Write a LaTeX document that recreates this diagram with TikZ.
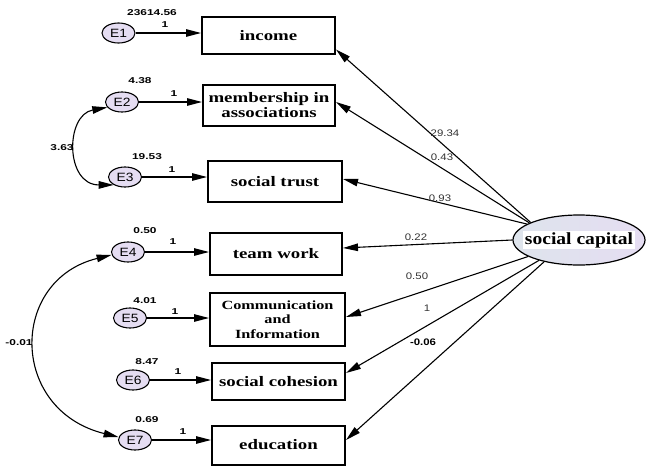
\documentclass[tikz,border=0pt]{standalone}
\usepackage{fontspec}
\setmainfont{Liberation Serif}
\newfontfamily\boxfont[FakeStretch=1.3]{Liberation Serif}
\newfontfamily\capfont[FakeStretch=1.15]{Liberation Serif}
\newfontfamily\efont[FakeStretch=1.15]{Liberation Sans}
\newfontfamily\numfont[FakeStretch=1.4]{Liberation Sans}
\newfontfamily\pathfont[FakeStretch=1.2]{Liberation Sans}
\usetikzlibrary{arrows.meta,shapes.geometric}
\definecolor{lav}{RGB}{229,221,242}
\definecolor{lavblue}{RGB}{222,228,236}
\definecolor{lbl}{RGB}{50,50,50}
\begin{document}
\begin{tikzpicture}[x=1pt,y=-1pt,
  obs/.style={draw, line width=2pt, minimum width=133pt, inner sep=0pt, align=center,
    font=\boxfont\bfseries\fontsize{14.5}{15}\selectfont},
  err/.style={ellipse, draw, line width=1.1pt, fill=lav, minimum width=33pt, minimum height=20pt,
    inner sep=0pt, font=\efont\fontsize{12}{12}\selectfont},
  latent/.style={ellipse, draw, line width=1.2pt, left color=lavblue, right color=lav,
    minimum width=132pt, minimum height=50pt, inner sep=0pt},
  sctext/.style={fill=white, inner sep=1.5pt, font=\capfont\bfseries\fontsize{17}{18}\selectfont},
  var/.style={font=\numfont\bfseries\fontsize{8.5}{9}\selectfont, inner sep=0pt},
  ld/.style={font=\pathfont\fontsize{9.5}{10}\selectfont, text=lbl, inner sep=0pt},
  ldb/.style={font=\pathfont\bfseries\fontsize{9.5}{10}\selectfont, text=black, inner sep=0pt},
  arr/.style={line width=1.1pt, -{Triangle[length=15pt,width=7.5pt]}},
  cov/.style={line width=1.1pt, {Triangle[length=15pt,width=7.5pt]}-{Triangle[length=15pt,width=7.5pt]}},
]
\useasboundingbox (0,0) rectangle (646,466);

% observed variables
\node[obs, minimum height=37pt] (inc) at (268.5,35.5) {income};
\node[obs, minimum height=41pt, minimum width=132pt] (mem) at (269,105.5) {membership in\\associations};
\node[obs, minimum height=41pt, minimum width=134pt] (tru) at (275,181.5) {social trust};
\node[obs, minimum height=42pt, minimum width=132pt] (tea) at (276,254) {team work};
\node[obs, minimum height=53pt, minimum width=135pt, font=\boxfont\bfseries\fontsize{12.5}{14.5}\selectfont] (com) at (277.5,319.5) {Communication\\and\\Information};
\node[obs, minimum height=37pt] (coh) at (278.5,381.5) {social cohesion};
\node[obs, minimum height=39pt] (edu) at (278.5,445) {education};

% latent variable
\node[latent] (sc) at (579,240) {};
\node[sctext] (sct) at (sc) {social capital};

% error terms
\node[err] (E1) at (118.5,33) {E1};
\node[err] (E2) at (122,102) {E2};
\node[err] (E3) at (125,177) {E3};
\node[err] (E4) at (128,252) {E4};
\node[err] (E5) at (130,318) {E5};
\node[err] (E6) at (133,380) {E6};
\node[err] (E7) at (135,440) {E7};

% error variances
\node[var] (v1) at (152,13) {23614.56};
\node[var] (v2) at (140,81) {4.38};
\node[var] (v3) at (147,157) {19.53};
\node[var] (v4) at (145,231) {0.50};
\node[var] (v5) at (145,301) {4.01};
\node[var] (v6) at (147,362) {8.47};
\node[var] (v7) at (147,420) {0.69};

% error paths
\draw[arr] (E1) -- (E1 -| inc.west);
\draw[arr] (E2) -- (E2 -| mem.west);
\draw[arr] (E3) -- (E3 -| tru.west);
\draw[arr] (E4) -- (E4 -| tea.west);
\draw[arr] (E5) -- (E5 -| com.west);
\draw[arr] (E6) -- (E6 -| coh.west);
\draw[arr] (E7) -- (E7 -| edu.west);
\node[var] (w1) at (165,25) {1};
\node[var] (w2) at (174,94) {1};
\node[var] (w3) at (172,170) {1};
\node[var] (w4) at (173,242) {1};
\node[var] (w5) at (175,312) {1};
\node[var] (w6) at (178,372) {1};
\node[var] (w7) at (183,432) {1};

% covariances
\draw[cov] (E2.200) .. controls (65,115) and (65,185) .. (E3.215);
\node[var] (c23) at (62,148) {3.63};
\draw[cov] (E4.190) .. controls (9,280) and (9,410) .. (E7.170);
\node[var] (c47) at (19,343) {-0.01};

% loadings
\draw[arr] (sc.160) -- ([yshift=-14pt]inc.east);
\draw[arr] (sc.161) -- ([yshift=3.5pt]mem.east);
\draw[arr] (sc.163) -- ([yshift=2.5pt]tru.east);
\draw[arr] (sc.180) -- ([yshift=6pt]tea.east);
\draw[arr] (sc.198) -- ([yshift=2.5pt]com.east);
\draw[arr] (sc.207) -- ([yshift=8.5pt]coh.east);
\draw[arr] (sc.212) -- ([yshift=5pt]edu.east);
\node[ld] (l1) at (445,133) {29.34};
\node[ld] (l2) at (442,157) {0.43};
\node[ld] (l3) at (440,198) {0.93};
\node[ld] (l4) at (416,237) {0.22};
\node[ld] (l5) at (417,276) {0.50};
\node[ld] (l6) at (427,308) {1};
\node[ldb] (l7) at (423,342) {-0.06};
\end{tikzpicture}
\end{document}
